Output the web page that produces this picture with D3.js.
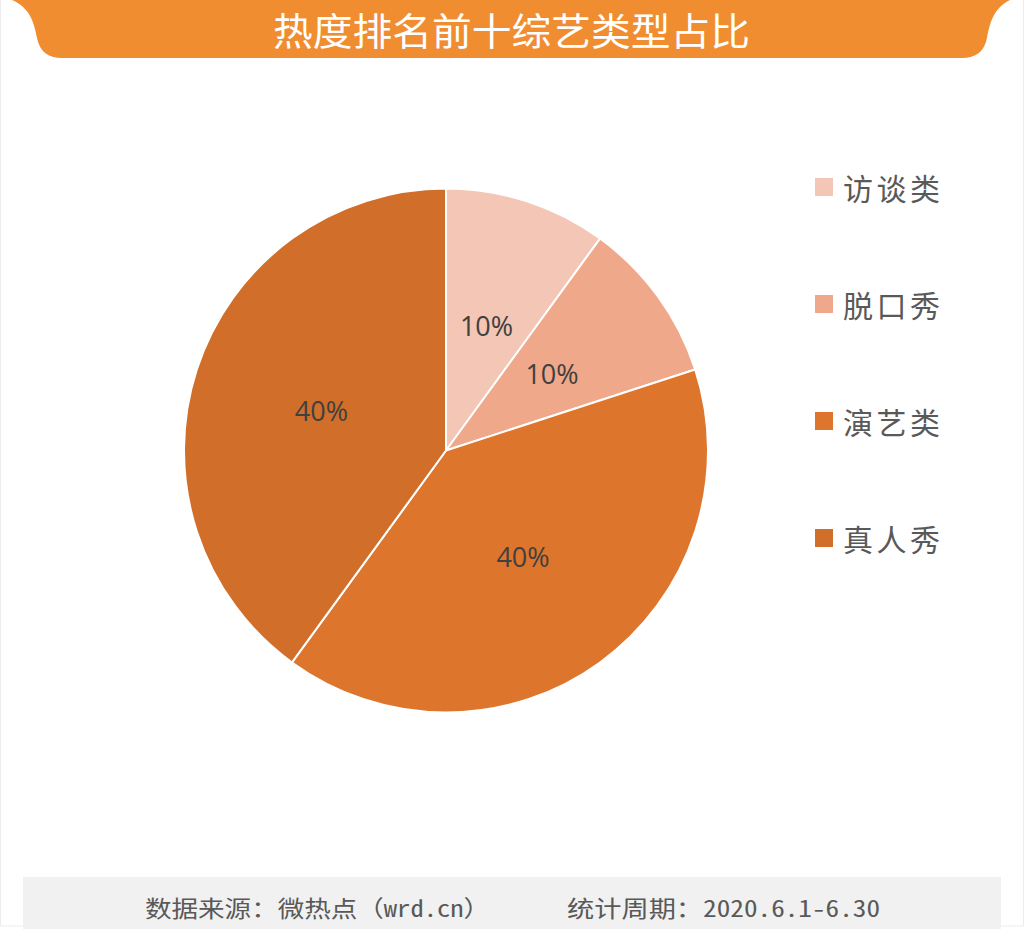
<!DOCTYPE html>
<html><head><meta charset="utf-8">
<script src="https://cdn.jsdelivr.net/npm/d3@7"></script>
<style>html,body{margin:0;padding:0;background:#fff;}svg{display:block;}</style>
</head><body>
<script>
const title = "热度排名前十综艺类型占比";
const categories = ["访谈类", "脱口秀", "演艺类", "真人秀"];
const values = [10, 10, 40, 40];
const colors = ["#F4C6B6", "#EFA88A", "#DE752C", "#D16E2A"];
const footerText = ["数据来源：微热点（wrd.cn）", "统计周期：2020.6.1-6.30"];

const W = 1024, H = 929;
const svg = d3.select("body").append("svg").attr("width", W).attr("height", H);
svg.append("rect").attr("width", W).attr("height", H).attr("fill", "#fff");
svg.append("rect").attr("x", 0.5).attr("y", -1).attr("width", W - 1).attr("height", H - 2)
  .attr("fill", "none").attr("stroke", "#ececec");

// title bar
const tb = d3.path();
tb.moveTo(12, 0);
tb.bezierCurveTo(30, 8, 34, 22, 37, 38);
tb.bezierCurveTo(40, 52, 48, 58, 62, 58);
tb.lineTo(962, 58);
tb.bezierCurveTo(976, 58, 984, 52, 987, 38);
tb.bezierCurveTo(990, 22, 994, 8, 1010, 0);
tb.closePath();
svg.append("path").attr("d", tb.toString()).attr("fill", "#F18D31");
svg.append("text").attr("x", 273).attr("y", 28).attr("text-anchor", "start")
  .attr("dominant-baseline", "central").attr("fill", "#fff")
  .attr("textLength", 477).attr("lengthAdjust", "spacingAndGlyphs")
  .style("font-family", "'Noto Sans CJK SC'").style("font-size", "38px")
  .text(title);

// pie
const cx = 446, cy = 450.5, R = 262;
const g = svg.append("g").attr("transform", `translate(${cx},${cy})`);
const pie = d3.pie().sort(null).value(d => d)(values);
const arc = d3.arc().innerRadius(0).outerRadius(R);
const labelArc = d3.arc().innerRadius(R * 0.5).outerRadius(R * 0.5);
const total = d3.sum(values);
g.selectAll("path.slice").data(pie).join("path").attr("class", "slice")
  .attr("d", arc).attr("fill", (d, i) => colors[i])
  .attr("stroke", "#fff").attr("stroke-width", 2).attr("stroke-linejoin", "round");
g.selectAll("text.lbl").data(pie).join("text").attr("class", "lbl")
  .attr("transform", d => `translate(${labelArc.centroid(d)})`)
  .attr("text-anchor", "middle").attr("dominant-baseline", "central")
  .attr("fill", "#404040").style("font-family", "'Open Sans'").style("font-size", "27px")
  .text(d => Math.round(d.value / total * 100) + "%");

// legend
const leg = svg.append("g");
const legY = d3.scalePoint().domain(categories).range([187, 538]);
categories.forEach((c, i) => {
  leg.append("rect").attr("x", 815).attr("y", legY(c) - 9).attr("width", 18).attr("height", 18)
    .attr("fill", colors[i]);
  leg.append("text").attr("x", 843).attr("y", legY(c)).attr("dominant-baseline", "central")
    .attr("fill", "#595959").style("font-family", "'Noto Sans CJK SC'").style("font-size", "30px")
    .attr("textLength", 97).attr("lengthAdjust", "spacing")
    .text(c);
});

// footer
svg.append("rect").attr("x", 23).attr("y", 877).attr("width", 978).attr("height", 52).attr("fill", "#F1F1F1");
const ff = "'Noto Sans Mono CJK SC', 'Noto Sans CJK SC'";
svg.append("text").attr("x", 145).attr("y", 907).attr("dominant-baseline", "central")
  .attr("fill", "#595959").style("font-family", ff).style("font-size", "23px")
  .attr("textLength", 345).attr("lengthAdjust", "spacingAndGlyphs")
  .text(footerText[0]);
svg.append("text").attr("x", 567).attr("y", 907).attr("dominant-baseline", "central")
  .attr("fill", "#595959").style("font-family", ff).style("font-size", "23px")
  .attr("textLength", 313).attr("lengthAdjust", "spacingAndGlyphs")
  .text(footerText[1]);
</script>
</body></html>
